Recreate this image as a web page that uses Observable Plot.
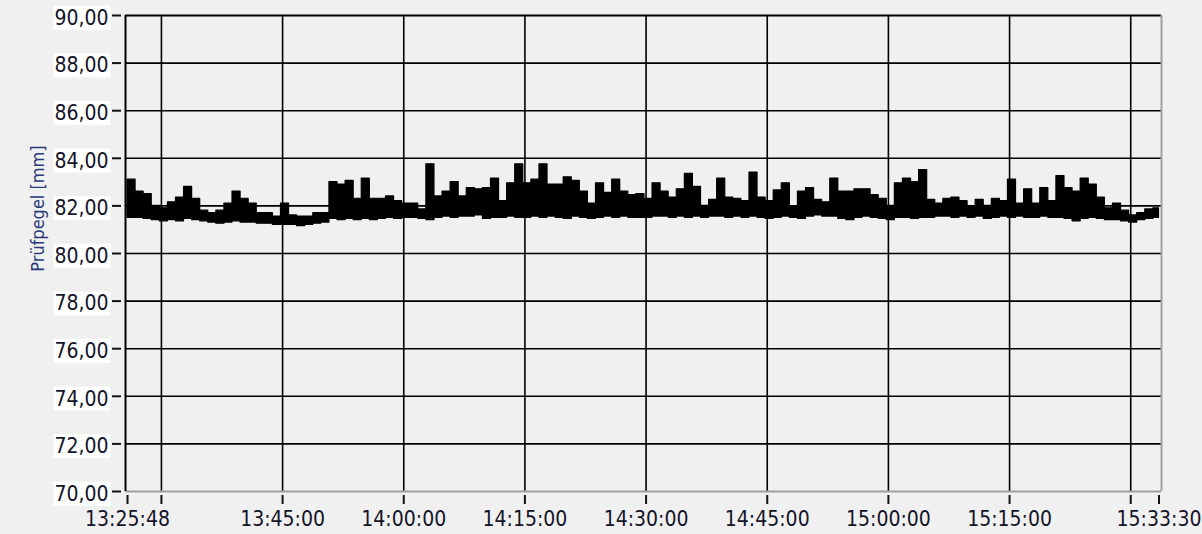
<!DOCTYPE html>
<html>
<head>
<meta charset="utf-8">
<script src="https://cdn.jsdelivr.net/npm/d3@7"></script>
<script src="https://cdn.jsdelivr.net/npm/@observablehq/plot@0.6"></script>
<style>
  html, body { margin: 0; padding: 0; background: #f0f0f0; }
  #chart { width: 1202px; height: 534px; overflow: hidden; }
</style>
</head>
<body>
<div id="chart"></div>
<script>
// ---- data ----
const startTime = "13:25:48";
const endTime = "15:33:30";
const sampleStepSeconds = 60;

// upper edge of the noisy trace, one reading per minute from 13:25:48
const upper = [
  83.1, 82.6, 82.5, 82.0, 81.9, 82.15, 82.35, 82.8, 82.3, 81.8,
  81.7, 81.8, 82.1, 82.6, 82.3, 82.1, 81.7, 81.7, 81.55, 82.1,
  81.6, 81.55, 81.55, 81.7, 81.7, 83.0, 82.9, 83.05, 82.3, 83.15,
  82.3, 82.3, 82.4, 82.2, 82.1, 82.1, 81.85, 83.75, 82.4, 82.6,
  83.0, 82.4, 82.75, 82.7, 82.75, 83.15, 82.2, 82.95, 83.75, 82.95,
  83.1, 83.75, 82.9, 82.9, 83.2, 83.05, 82.6, 82.1, 82.95, 82.55,
  83.1, 82.6, 82.45, 82.5, 82.3, 82.95, 82.6, 82.35, 82.7, 83.35,
  82.8, 82.0, 82.25, 83.15, 82.35, 82.3, 82.2, 83.4, 82.35, 82.2,
  82.65, 82.95, 81.95, 82.6, 82.75, 82.25, 82.15, 83.15, 82.6, 82.6,
  82.7, 82.7, 82.45, 82.3, 82.0, 82.95, 83.15, 83.0, 83.5, 82.25,
  82.1, 82.3, 82.35, 82.2, 81.95, 82.25, 82.0, 82.3, 82.2, 83.1,
  82.1, 82.7, 82.1, 82.75, 82.2, 83.25, 82.75, 82.6, 83.15, 82.9,
  82.35, 81.9, 82.1, 81.8, 81.6, 81.7, 81.85, 81.9
];
// lower edge of the noisy trace
const lower = [
  81.5, 81.5, 81.45, 81.4, 81.35, 81.4, 81.35, 81.45, 81.4, 81.35,
  81.3, 81.25, 81.3, 81.35, 81.3, 81.3, 81.25, 81.25, 81.2, 81.2,
  81.2, 81.15, 81.2, 81.25, 81.3, 81.45, 81.4, 81.45, 81.4, 81.45,
  81.4, 81.45, 81.5, 81.45, 81.5, 81.5, 81.45, 81.4, 81.5, 81.55,
  81.5, 81.55, 81.55, 81.6, 81.45, 81.5, 81.5, 81.55, 81.5, 81.5,
  81.55, 81.5, 81.55, 81.5, 81.45, 81.55, 81.5, 81.45, 81.5, 81.55,
  81.5, 81.55, 81.5, 81.5, 81.5, 81.55, 81.55, 81.5, 81.55, 81.5,
  81.55, 81.5, 81.55, 81.55, 81.5, 81.55, 81.5, 81.55, 81.5, 81.45,
  81.5, 81.55, 81.5, 81.45, 81.55, 81.6, 81.55, 81.55, 81.45, 81.4,
  81.5, 81.55, 81.5, 81.45, 81.4, 81.5, 81.5, 81.45, 81.5, 81.5,
  81.55, 81.55, 81.5, 81.55, 81.5, 81.55, 81.45, 81.5, 81.55, 81.5,
  81.55, 81.5, 81.5, 81.55, 81.5, 81.5, 81.45, 81.35, 81.45, 81.5,
  81.45, 81.4, 81.4, 81.35, 81.3, 81.4, 81.45, 81.5
];

const xTickTimes = ["13:25:48", "13:30:00", "13:45:00", "14:00:00", "14:15:00", "14:30:00",
                    "14:45:00", "15:00:00", "15:15:00", "15:30:00", "15:33:30"];
const xTickLabels = ["13:25:48", "", "13:45:00", "14:00:00", "14:15:00", "14:30:00",
                     "14:45:00", "15:00:00", "15:15:00", "", "15:33:30"];
const gridTimes = ["13:30:00", "13:45:00", "14:00:00", "14:15:00", "14:30:00",
                   "14:45:00", "15:00:00", "15:15:00", "15:30:00"];
const yTicks = [70, 72, 74, 76, 78, 80, 82, 84, 86, 88, 90];
const yGrid = [72, 74, 76, 78, 80, 82, 84, 86, 88];
const yLabel = "Prüfpegel [mm]";

// ---- build ----
function t(s) {
  const [h, m, sec] = s.split(":").map(Number);
  return new Date(Date.UTC(2000, 0, 1, h, m, sec));
}
const t0 = t(startTime), t1 = t(endTime);
const series = upper.map((hi, i) => ({
  time: new Date(+t0 + i * sampleStepSeconds * 1000), hi, lo: lower[i]
}));
series.push({ time: t1, hi: upper[upper.length - 1], lo: lower[lower.length - 1] });

const labelOf = new Map(xTickTimes.map((s, i) => [+t(s), xTickLabels[i]]));
const fmtY = d => d.toFixed(2).replace(".", ",");
const FONT = "'DejaVu Sans Condensed', 'DejaVu Sans', sans-serif";

const chart = Plot.plot({
  width: 1202,
  height: 534,
  marginLeft: 125,
  marginRight: 41,
  marginTop: 15,
  marginBottom: 43,
  style: { background: "#f0f0f0", fontFamily: FONT, color: "#111" },
  x: { type: "utc", domain: [t0, t1], insetLeft: 2, insetRight: 2.5 },
  y: { domain: [70, 90] },
  marks: [
    Plot.ruleX(gridTimes.map(t), { stroke: "#000", strokeWidth: 1.6 }),
    Plot.ruleY(yGrid, { stroke: "#000", strokeWidth: 1.6 }),
    Plot.ruleY([90], { stroke: "#000", strokeWidth: 2 }),
    Plot.ruleY([70], { stroke: "#a0a0a0", strokeWidth: 2 }),
    Plot.ruleX([t0], { stroke: "#000", strokeWidth: 2, dx: -2 }),
    Plot.ruleX([t1], { stroke: "#a0a0a0", strokeWidth: 2, dx: 2.5 }),
    Plot.areaY(series, { x: "time", y1: "lo", y2: "hi", curve: "step-after",
                         fill: "#000", stroke: "#000", strokeWidth: 1.2 }),
    // y axis ticks and labels
    Plot.axisY(yTicks, { anchor: "left", tickSize: 9, dx: -4, strokeWidth: 2,
                         tickFormat: () => "", label: null }),
    Plot.axisY(yTicks, { anchor: "left", tickSize: 0, tickPadding: 17, dy: 2.5,
                         tickFormat: fmtY, fontSize: 21, label: null, fill: "#141428" }),
    // x axis ticks and labels
    Plot.axisX(xTickTimes.map(t), { anchor: "bottom", tickSize: 9, dy: 4, strokeWidth: 2,
                                    tickFormat: () => "", label: null }),
    Plot.axisX(xTickTimes.map(t), { anchor: "bottom", tickSize: 0, tickPadding: 20,
                                    tickFormat: d => labelOf.get(+d), fontSize: 21,
                                    label: null, fill: "#141428" }),
    Plot.text([yLabel], { frameAnchor: "left", textAnchor: "middle", rotate: -90,
                          dx: -87, dy: -45, fontSize: 18, fill: "#2a3a78" })
  ]
});

document.getElementById("chart").appendChild(chart);

// white label backgrounds behind the y tick labels (as in the reference)
try {
  const svgNode = chart;
  const svgBox = svgNode.getBoundingClientRect();
  const labels = Array.from(svgNode.querySelectorAll("text"))
    .filter(el => /^\d+,\d\d$/.test(el.textContent.trim()));
  const bgLayer = document.createElementNS("http://www.w3.org/2000/svg", "g");
  labels.forEach(el => {
    const r = el.getBoundingClientRect();
    const rect = document.createElementNS("http://www.w3.org/2000/svg", "rect");
    rect.setAttribute("x", r.left - svgBox.left - 1);
    rect.setAttribute("y", r.top - svgBox.top);
    rect.setAttribute("width", r.width + 3);
    rect.setAttribute("height", r.height);
    rect.setAttribute("fill", "#ffffff");
    bgLayer.appendChild(rect);
  });
  if (labels.length) {
    let grp = labels[0].parentNode;
    while (grp.parentNode !== svgNode) grp = grp.parentNode;
    svgNode.insertBefore(bgLayer, grp);
  }
} catch (e) { /* backgrounds are cosmetic */ }
</script>
</body>
</html>
